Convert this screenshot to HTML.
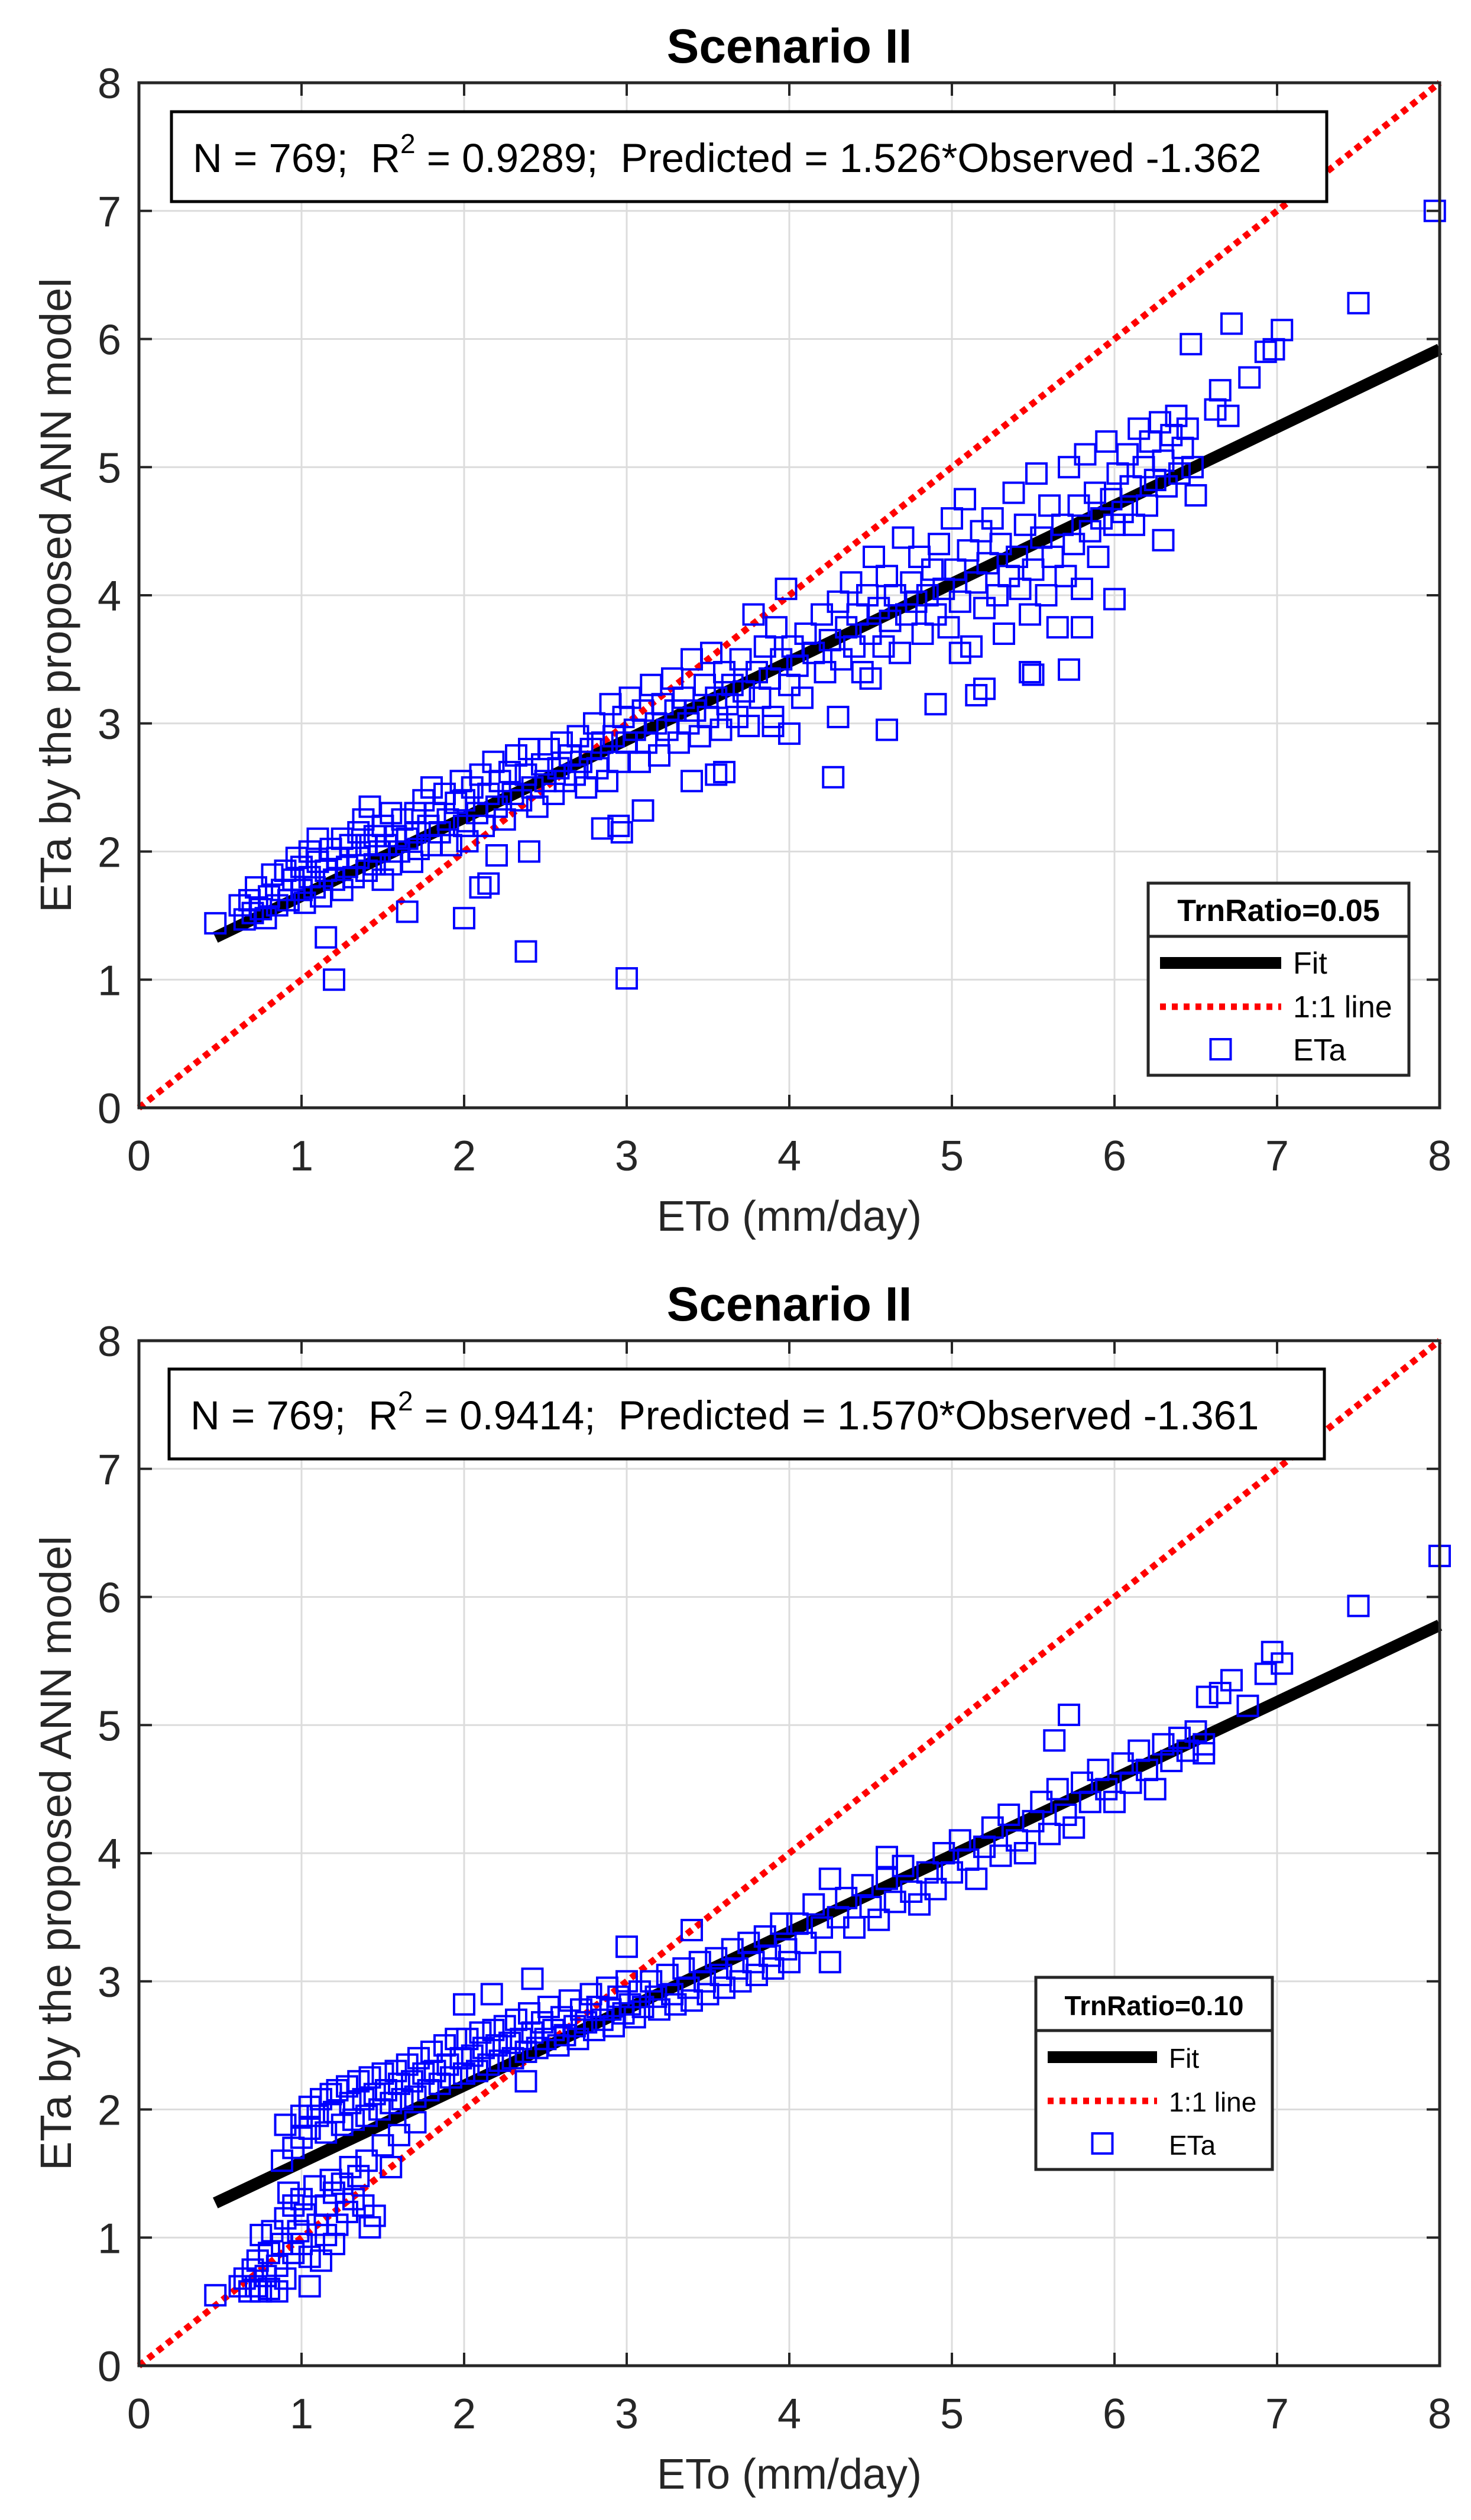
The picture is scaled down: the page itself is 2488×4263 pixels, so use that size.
<!DOCTYPE html>
<html><head><meta charset="utf-8"><style>
html,body{margin:0;padding:0;background:#fff;}
svg{display:block;font-family:"Liberation Sans",Arial,sans-serif;}
</style></head><body>
<svg id="fig" width="2488" height="4263" viewBox="0 0 2488 4263"></svg>
<script>
const xTicks=[0,1,2,3,4,5,6,7,8];
const yTicks=[0,1,2,3,4,5,6,7,8];
const topFit=[0.47,1.33,8,5.92];
const botFit=[0.47,1.27,8,5.78];
const topPoints=[0.47,1.44,0.62,1.58,0.65,1.47,0.68,1.62,0.7,1.52,0.72,1.72,0.75,1.55,0.78,1.48,0.8,1.65,0.82,1.82,0.85,1.58,0.88,1.7,0.9,1.85,0.92,1.62,0.95,1.78,0.97,1.95,1.0,1.7,1.0,1.88,1.02,1.6,1.05,2.0,1.05,1.8,1.08,1.72,1.1,1.92,1.1,2.1,1.12,1.65,1.15,1.85,1.18,2.02,1.2,1.78,1.22,1.95,1.25,2.1,1.25,1.7,1.28,1.88,1.3,2.05,1.32,1.8,1.35,2.15,1.35,1.95,1.38,2.25,1.4,1.85,1.4,2.05,1.42,2.35,1.45,1.9,1.45,2.12,1.48,2.0,1.5,2.2,1.5,1.78,1.52,2.05,1.55,2.3,1.55,1.9,1.58,2.12,1.6,2.0,1.62,2.25,1.65,2.1,1.68,1.92,1.7,2.3,1.7,2.15,1.72,2.02,1.75,2.4,1.78,2.2,1.8,2.05,1.8,2.5,1.82,2.3,1.85,2.15,1.88,2.45,1.9,2.25,1.92,2.05,1.95,2.38,1.98,2.55,2.0,2.2,2.0,2.4,2.02,2.08,2.05,2.5,2.08,2.3,2.1,2.6,2.12,2.2,2.15,2.45,2.18,2.7,2.2,2.35,2.22,2.55,2.25,2.25,2.28,2.62,2.3,2.45,2.32,2.75,2.35,2.4,2.38,2.6,2.4,2.8,2.42,2.5,2.45,2.35,2.48,2.68,2.5,2.55,2.52,2.8,2.55,2.45,2.58,2.65,2.6,2.85,2.62,2.55,2.65,2.75,2.68,2.6,2.7,2.9,2.72,2.7,2.75,2.5,2.78,2.8,2.8,3.0,2.82,2.65,2.85,2.85,2.88,2.55,2.9,3.15,2.92,2.9,2.95,2.7,2.98,3.05,3.0,2.85,3.02,3.2,3.05,2.95,3.08,2.7,3.1,3.1,3.12,2.85,3.15,3.3,3.18,3.0,3.2,2.75,3.22,3.15,3.25,2.95,3.28,3.35,3.3,3.1,3.32,2.85,3.35,3.2,3.38,3.0,3.4,3.5,3.42,3.1,3.45,2.9,3.48,3.3,3.5,3.05,3.52,3.55,3.55,3.2,3.58,2.95,3.6,3.4,3.62,3.15,3.65,3.3,3.68,3.05,3.7,3.5,3.72,3.25,3.75,2.98,3.78,3.85,3.8,3.4,3.82,3.2,3.85,3.6,3.88,3.35,3.9,3.05,3.92,3.75,3.95,3.5,3.98,4.05,4.0,3.3,4.02,3.6,4.05,3.45,4.08,3.2,4.1,3.7,4.15,3.55,4.2,3.85,4.22,3.4,4.25,3.65,4.3,3.95,4.32,3.5,4.35,3.75,4.38,4.1,4.4,3.6,4.42,3.85,4.45,3.4,4.48,4.0,4.5,3.7,4.52,4.3,4.55,3.9,4.58,3.6,4.6,4.15,4.62,3.8,4.65,4.0,4.68,3.55,4.7,4.45,4.72,3.85,4.75,4.1,4.78,3.95,4.8,4.3,4.82,3.7,4.85,4.0,4.88,4.2,4.9,3.85,4.92,4.4,4.95,4.05,4.98,3.75,5.0,4.6,5.02,4.2,5.05,3.95,5.08,4.75,5.1,4.35,5.12,3.6,5.15,4.1,5.18,4.5,5.2,3.9,5.22,4.25,5.25,4.6,5.28,4.0,5.3,4.4,5.32,3.7,5.35,4.15,5.38,4.8,5.4,4.3,5.42,4.05,5.45,4.55,5.48,3.85,5.5,4.2,5.52,4.95,5.55,4.45,5.58,4.0,5.6,4.7,5.62,4.3,5.65,3.75,5.68,4.55,5.7,4.15,5.72,5.0,5.75,4.4,5.78,4.7,5.8,4.05,5.82,5.1,5.85,4.5,5.88,4.8,5.9,4.3,5.92,4.6,5.95,5.2,5.98,4.75,6.0,4.55,6.02,4.95,6.05,4.65,6.08,5.1,6.1,4.85,6.12,4.55,6.15,5.3,6.18,5.0,6.2,4.7,6.22,5.2,6.25,4.9,6.28,5.35,6.3,5.05,6.32,4.85,6.35,5.25,6.38,5.4,6.4,4.95,6.42,5.15,6.45,5.3,6.48,5.0,
7.97,7.0,7.5,6.28,6.72,6.12,7.03,6.07,6.98,5.92,6.93,5.9,6.47,5.96,6.83,5.7,6.65,5.6,6.62,5.45,6.7,5.4,6.5,4.78,1.2,1.0,3.0,1.01,2.38,1.22,1.15,1.33,2.0,1.48,1.65,1.53,4.27,2.58,4.6,2.95,2.97,2.15,2.95,2.2,2.85,2.18,3.1,2.32,3.4,2.55,3.6,2.62,3.55,2.6,4.9,3.15,5.15,3.22,5.2,3.27,5.48,3.4,5.5,3.38,5.72,3.42,5.05,3.55,4.5,3.35,6.0,3.97,5.8,3.75,6.3,4.43,2.4,2.0,2.2,1.97,2.15,1.75,2.1,1.72,4.0,2.92,3.9,2.98,4.3,3.05];
const botPoints=[0.47,0.55,0.62,0.62,0.65,0.68,0.68,0.58,0.7,0.75,0.72,0.62,0.73,0.82,0.75,0.58,0.75,1.02,0.78,0.7,0.8,0.6,0.8,0.88,0.82,1.05,0.85,0.78,0.85,0.58,0.88,0.95,0.9,1.15,0.9,0.68,0.92,1.35,0.95,0.88,0.95,1.25,0.98,1.05,1.0,1.3,1.0,0.95,1.02,1.18,1.05,0.62,1.05,0.85,1.08,1.4,1.1,1.1,1.12,0.82,1.15,1.25,1.15,1.02,1.18,1.45,1.2,0.95,1.2,1.35,1.22,1.1,1.25,1.42,1.28,1.2,1.3,1.55,1.32,1.3,1.35,1.48,1.38,1.25,1.4,1.6,1.5,1.72,1.55,1.55,1.6,1.8,1.7,1.9,
0.88,1.6,0.9,1.88,0.95,1.7,1.0,1.95,1.0,1.78,1.05,2.02,1.05,1.85,1.1,1.95,1.12,2.08,1.15,1.82,1.18,2.12,1.2,1.98,1.22,2.15,1.25,1.88,1.28,2.18,1.3,2.05,1.32,1.92,1.35,2.22,1.38,2.08,1.4,1.95,1.42,2.25,1.45,2.12,1.48,2.0,1.5,2.28,1.52,2.15,1.55,2.05,1.58,2.3,1.6,2.2,1.62,2.08,1.65,2.35,1.68,2.22,1.7,2.1,1.72,2.4,1.75,2.28,1.78,2.15,1.8,2.45,1.82,2.3,1.85,2.2,1.88,2.5,1.9,2.35,1.92,2.25,1.95,2.55,1.98,2.4,2.0,2.28,2.02,2.55,2.05,2.42,2.08,2.3,2.1,2.6,2.12,2.48,2.15,2.35,2.18,2.62,2.2,2.5,2.22,2.38,2.25,2.65,2.28,2.52,2.3,2.4,2.32,2.7,2.35,2.55,2.38,2.45,2.4,2.75,2.42,2.6,2.45,2.48,2.48,2.68,2.5,2.55,2.52,2.8,2.55,2.62,2.58,2.5,2.6,2.72,2.62,2.58,2.65,2.85,2.68,2.65,2.7,2.55,2.72,2.78,2.75,2.68,2.78,2.9,2.8,2.62,2.82,2.8,2.85,2.7,2.88,2.95,2.9,2.78,2.92,2.65,2.95,2.88,2.98,2.75,3.0,3.0,3.02,2.82,3.05,2.72,3.08,2.92,3.1,2.8,3.15,3.0,3.18,2.88,3.2,2.78,3.25,3.05,3.28,2.9,3.3,2.82,3.35,3.1,3.38,2.95,3.4,2.85,3.45,3.15,3.48,3.0,3.5,2.9,3.55,3.18,3.58,3.05,3.6,2.95,3.65,3.25,3.68,3.1,3.7,3.0,3.75,3.3,3.78,3.15,3.8,3.05,3.85,3.35,3.88,3.2,3.9,3.1,3.95,3.45,3.98,3.25,4.0,3.15,4.05,3.45,4.1,3.3,4.15,3.6,4.2,3.42,4.25,3.8,4.3,3.5,4.35,3.65,4.4,3.42,4.45,3.75,4.5,3.58,4.55,3.48,4.6,3.8,4.65,3.62,4.7,3.9,4.75,3.7,4.8,3.6,4.85,3.85,4.9,3.72,4.95,4.0,5.0,3.85,5.05,4.1,5.1,3.95,5.15,3.8,5.2,4.05,5.25,4.2,5.3,3.98,5.35,4.3,5.4,4.1,5.45,4.0,5.5,4.25,5.55,4.4,5.6,4.15,5.65,4.5,5.7,4.3,5.75,4.2,5.8,4.55,5.85,4.4,5.9,4.65,5.95,4.5,6.0,4.4,6.05,4.7,6.1,4.55,6.15,4.8,6.2,4.65,6.25,4.5,6.3,4.85,6.35,4.72,6.4,4.9,6.45,4.8,6.5,4.95,6.55,4.85,
8.0,6.32,7.5,5.93,6.97,5.57,7.03,5.48,6.93,5.4,6.72,5.35,6.65,5.25,6.57,5.22,6.82,5.15,5.72,5.08,5.63,4.88,6.55,4.78,3.0,3.27,2.42,3.02,2.17,2.9,2.0,2.82,2.38,2.22,4.25,3.15,3.4,3.4,4.6,3.97,1.45,1.17,1.42,1.08];

const NS='http://www.w3.org/2000/svg';
const svg=document.getElementById('fig');
function mk(tag,attrs,parent){const e=document.createElementNS(NS,tag);for(const k in attrs)e.setAttribute(k,attrs[k]);(parent||svg).appendChild(e);return e;}

function drawPlot(cfg){
  const L=235,R=2435,T=cfg.top,B=cfg.top+1734;
  const sx=v=>L+(v-0)/(8-0)*(R-L);
  const sy=v=>B-(v-0)/(8-0)*(B-T);
  const g=mk('g',{});
  
  
  xTicks.forEach(t=>{if(t>0&&t<8){const l=mk('line',{x1:sx(t),x2:sx(t),y1:T,y2:B,stroke:'#dcdcdc','stroke-width':3},g);}});
  yTicks.forEach(t=>{if(t>0&&t<8){const l=mk('line',{x1:L,x2:R,y1:sy(t),y2:sy(t),stroke:'#dcdcdc','stroke-width':3},g);}});
  xTicks.forEach(t=>{
    mk('line',{x1:sx(t),x2:sx(t),y1:B,y2:B-22,stroke:'#262626','stroke-width':4},g);
    mk('line',{x1:sx(t),x2:sx(t),y1:T,y2:T+22,stroke:'#262626','stroke-width':4},g);
    const tx=mk('text',{x:sx(t),y:B+106,'font-size':72,'text-anchor':'middle',fill:'#262626'},g);
    tx.textContent=t;
    
    
  });
  yTicks.forEach(t=>{
    mk('line',{x1:L,x2:L+22,y1:sy(t),y2:sy(t),stroke:'#262626','stroke-width':4},g);
    mk('line',{x1:R,x2:R-22,y1:sy(t),y2:sy(t),stroke:'#262626','stroke-width':4},g);
    const tx=mk('text',{x:L-30,y:sy(t)+26,'font-size':72,'text-anchor':'end',fill:'#262626'},g);
    tx.textContent=t;
    
    
  });
  const one=mk('line',{x1:sx(0),y1:sy(0),x2:sx(8),y2:sy(8),stroke:'#ff0000','stroke-width':11,'stroke-dasharray':'11 9'},g);
  
  
  const f=cfg.fit;
  const fl=mk('line',{x1:sx(f[0]),y1:sy(f[1]),x2:sx(f[2]),y2:sy(f[3]),stroke:'#000','stroke-width':20},g);
  
  
  const P=cfg.pts;
  for(let i=0;i<P.length;i+=2){
    const r=mk('rect',{x:sx(P[i])-17,y:sy(P[i+1])-17,width:34,height:34,fill:'none',stroke:'#0000ff','stroke-width':4},g);
    
    
  }
  const ax=mk('rect',{x:L,y:T,width:R-L,height:B-T,fill:'none',stroke:'#262626','stroke-width':5},g);
  
  
  const ti=mk('text',{x:(L+R)/2,y:T-34,'font-size':82,'font-weight':'bold','text-anchor':'middle',fill:'#000'},g);
  ti.textContent='Scenario II';
  
  
  const xl=mk('text',{x:(L+R)/2,y:B+208,'font-size':72,'text-anchor':'middle',fill:'#262626'},g);
  xl.textContent='ETo (mm/day)';
  
  
  const yl=mk('text',{x:0,y:0,'font-size':74,'text-anchor':'middle',fill:'#262626',transform:`translate(120,${(T+B)/2}) rotate(-90)`},g);
  yl.textContent='ETa by the proposed ANN model';
  
  
  const a=cfg.ann;
  const ab=mk('rect',{x:a.x,y:a.y,width:1954,height:152,fill:'#fff',stroke:'#000','stroke-width':5},g);
  
  
  const at=mk('text',{x:a.x+36,y:a.y+102,'font-size':69,fill:'#000','xml:space':'preserve'},g);
  
  
  at.innerHTML=`N = 769;&#160; R<tspan dy="-32" font-size="46">2</tspan><tspan dy="32"> = ${a.r2};&#160; Predicted = ${a.eq}</tspan>`;
  const lg=cfg.leg;
  const lgg=mk('g',{},g);
  
  
  mk('rect',{x:lg.x,y:lg.y,width:lg.w,height:325,fill:'#fff',stroke:'#262626','stroke-width':5},lgg);
  mk('line',{x1:lg.x,x2:lg.x+lg.w,y1:lg.y+90,y2:lg.y+90,stroke:'#262626','stroke-width':5},lgg);
  const lt=mk('text',{x:lg.x+lg.w/2,y:lg.y+64,'font-size':lg.fs,'font-weight':'bold','text-anchor':'middle',fill:'#000'},lgg);
  lt.textContent=lg.title;
  
  
  const lx=lg.x+20, tx0=lg.x+lg.tx;
  mk('line',{x1:lx,x2:lx+lg.ll,y1:lg.y+135,y2:lg.y+135,stroke:'#000','stroke-width':20},lgg);
  mk('line',{x1:lx,x2:lx+lg.ll,y1:lg.y+209,y2:lg.y+209,stroke:'#ff0000','stroke-width':11,'stroke-dasharray':'10 10'},lgg);
  mk('rect',{x:lx+lg.ll/2-17,y:lg.y+264,width:34,height:34,fill:'none',stroke:'#0000ff','stroke-width':4},lgg);
  [['Fit',153,'legend-entry-fit'],['1:1 line',227,'legend-entry-one-to-one'],['ETa',300,'legend-entry-eta']].forEach(e=>{
    const t=mk('text',{x:tx0,y:lg.y+e[1],'font-size':lg.fs,fill:'#000'},lgg);
    t.textContent=e[0];
    
    
  });
}
drawPlot({name:'top-chart',top:140,fit:topFit,pts:topPoints,ann:{x:290,y:189,r2:'0.9289',eq:'1.526*Observed -1.362'},leg:{x:1942,y:1494,w:441,title:'TrnRatio=0.05',fs:52,tx:245,ll:205}});
drawPlot({name:'bottom-chart',top:2268,fit:botFit,pts:botPoints,ann:{x:286,y:2316,r2:'0.9414',eq:'1.570*Observed -1.361'},leg:{x:1752,y:3345,w:400,title:'TrnRatio=0.10',fs:46,tx:225,ll:185}});
</script>
</body></html>
